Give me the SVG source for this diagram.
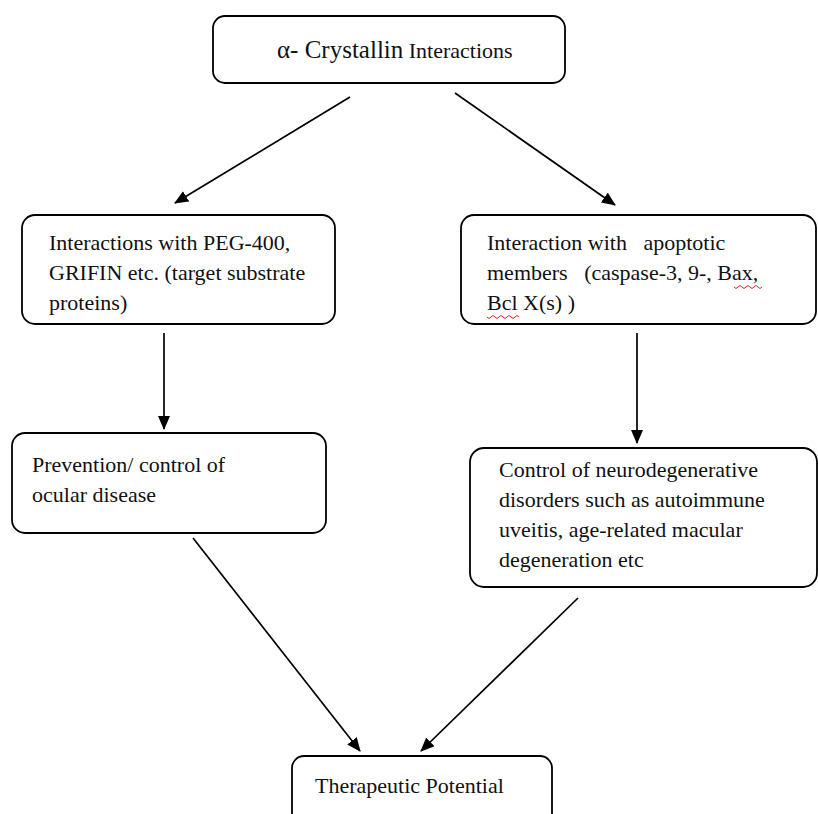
<svg xmlns="http://www.w3.org/2000/svg" width="818" height="814" viewBox="0 0 818 814">
<defs>
<style>
.box{fill:#fff;stroke:#000;stroke-width:1.8}
.t{font-family:"Liberation Serif","Times New Roman",serif;font-size:22px;fill:#111;white-space:pre}
.c{stroke:#000;stroke-width:1.7;fill:none}
.sq{stroke:#d22;stroke-width:1;fill:none}
</style>
<marker id="ah" viewBox="0 0 14 12" refX="13" refY="6" markerWidth="14" markerHeight="12" markerUnits="userSpaceOnUse" orient="auto">
<path d="M0,0 L14,6 L0,12 z" fill="#000"/>
</marker>
</defs>
<rect width="818" height="814" fill="#fff"/>
<g id="connectors">
<line class="c" x1="350" y1="97" x2="175" y2="203" marker-end="url(#ah)"/>
<line class="c" x1="455" y1="93" x2="615" y2="205" marker-end="url(#ah)"/>
<line class="c" x1="164" y1="333" x2="164" y2="429" marker-end="url(#ah)"/>
<line class="c" x1="637" y1="333" x2="637" y2="443" marker-end="url(#ah)"/>
<line class="c" x1="193" y1="538" x2="360" y2="751" marker-end="url(#ah)"/>
<line class="c" x1="578" y1="598" x2="421" y2="751" marker-end="url(#ah)"/>
</g>
<g id="n-top">
<rect class="box" x="213" y="16" width="352" height="67" rx="12"/>
<text class="t" x="277" y="58"><tspan style="font-size:25px">α- Crystallin</tspan> Interactions</text>
</g>
<g id="n-peg">
<rect class="box" x="22" y="215" width="313" height="109" rx="13"/>
<text class="t" x="49" y="250">Interactions with PEG-400,</text>
<text class="t" x="49" y="280">GRIFIN etc. (target substrate</text>
<text class="t" x="49" y="310">proteins)</text>
</g>
<g id="n-apop">
<rect class="box" x="461" y="215" width="355" height="109" rx="13"/>
<text class="t" x="487" y="250">Interaction with   apoptotic</text>
<text class="t" x="487" y="280">members   (caspase-3, 9-, Bax,</text>
<text class="t" x="487" y="310">Bcl X(s) )</text>
<path class="sq" d="M734,287 q2,3 4,0 t4,0 t4,0 t4,0 t4,0 t4,0 t4,0"/>
<path class="sq" d="M487,317 q2,3 4,0 t4,0 t4,0 t4,0 t4,0 t4,0 t4,0 t4,0"/>
</g>
<g id="n-ocular">
<rect class="box" x="12" y="433" width="314" height="100" rx="13"/>
<text class="t" x="32" y="472">Prevention/ control of</text>
<text class="t" x="32" y="502">ocular disease</text>
</g>
<g id="n-neuro">
<rect class="box" x="470" y="448" width="347" height="139" rx="14"/>
<text class="t" x="499" y="477">Control of neurodegenerative</text>
<text class="t" x="499" y="507">disorders such as autoimmune</text>
<text class="t" x="499" y="537">uveitis, age-related macular</text>
<text class="t" x="499" y="567">degeneration etc</text>
</g>
<g id="n-thera">
<rect class="box" x="292" y="756" width="260" height="70" rx="12"/>
<text class="t" x="315" y="793">Therapeutic Potential</text>
</g>
</svg>
